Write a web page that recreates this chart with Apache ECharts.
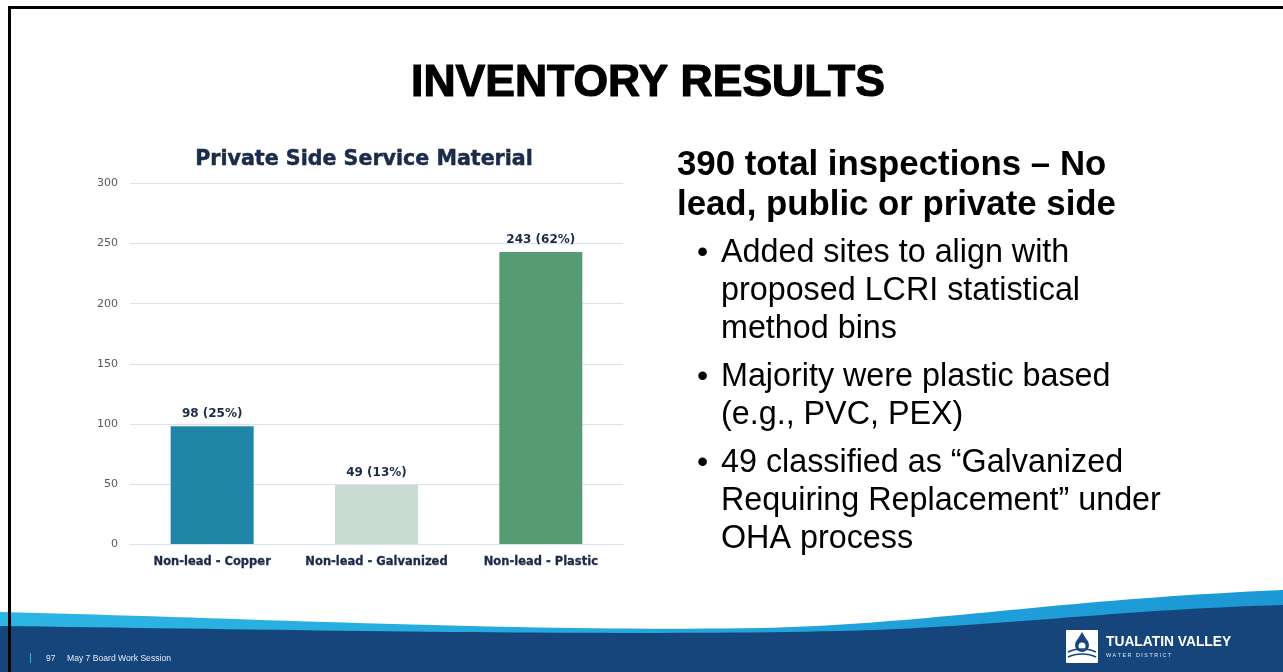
<!DOCTYPE html>
<html>
<head>
<meta charset="utf-8">
<title>Inventory Results</title>
<script src="https://cdn.jsdelivr.net/npm/echarts@6/dist/echarts.min.js"></script>
<style>
  html, body { margin: 0; padding: 0; background: #ffffff; }
  #chart { width: 1283px; height: 672px; }
</style>
</head>
<body>
<div id="chart"></div>
<script>
// Service-line material counts found on the private side
const categories = ['Non-lead - Copper', 'Non-lead - Galvanized', 'Non-lead - Plastic'];
const counts = [98, 49, 243];
const totalInspections = 390;

// Value axis range
const yMin = 0;
const yMax = 300;
const yStep = 50;

// Slide text
const slideTitle = 'INVENTORY RESULTS';
const chartTitle = 'Private Side Service Material';
const headingLines = ['390 total inspections \u2013 No', 'lead, public or private side'];
const bulletGroups = [
  ['Added sites to align with', 'proposed LCRI statistical', 'method bins'],
  ['Majority were plastic based', '(e.g., PVC, PEX)'],
  ['49 classified as \u201cGalvanized', 'Requiring Replacement\u201d under', 'OHA process']
];
const footerPage = '97';
const footerText = 'May 7 Board Work Session';

const FONT = '"Liberation Sans", Arial, sans-serif';
const WIDE = '"DejaVu Sans", Verdana, sans-serif';
const barColors = ['#2086a8', '#c9dbd1', '#579b74'];
const NAVY = '#15457b';

// Turn a start point plus cubic segments into polygon points (for the footer wave)
function curvePoints(start, segments, steps) {
  const pts = [start.slice()];
  let p0 = start;
  segments.forEach(s => {
    const c1 = [s[0], s[1]], c2 = [s[2], s[3]], p3 = [s[4], s[5]];
    for (let i = 1; i <= steps; i++) {
      const t = i / steps, u = 1 - t;
      pts.push([
        u * u * u * p0[0] + 3 * u * u * t * c1[0] + 3 * u * t * t * c2[0] + t * t * t * p3[0],
        u * u * u * p0[1] + 3 * u * u * t * c1[1] + 3 * u * t * t * c2[1] + t * t * t * p3[1]
      ]);
    }
    p0 = p3;
  });
  return pts;
}

const lightWave = curvePoints([0, 612], [
  [250, 618, 520, 632, 760, 628],
  [930, 624, 1050, 600, 1283, 590]
], 40).concat([[1283, 672], [0, 672]]);

const navyWave = curvePoints([0, 626], [
  [300, 630, 620, 636, 840, 631],
  [1000, 627, 1110, 610, 1283, 605]
], 40).concat([[1283, 672], [0, 672]]);

const chart = echarts.init(document.getElementById('chart'), null, { renderer: 'canvas' });

// Right-hand text block
const textEls = [];
headingLines.forEach((line, i) => {
  textEls.push({
    type: 'text', x: 677, y: 148 + i * 40, z: 10,
    style: { text: line, font: 'bold 34.8px ' + FONT, fill: '#000000' }
  });
});
let lineY = 237;
bulletGroups.forEach(group => {
  group.forEach((line, i) => {
    if (i === 0) {
      textEls.push({
        type: 'text', x: 697, y: lineY, z: 10,
        style: { text: '\u2022', font: '32px ' + FONT, fill: '#000000' }
      });
    }
    textEls.push({
      type: 'text', x: 721, y: lineY, z: 10,
      style: { text: line, font: '32.3px ' + FONT, fill: '#000000' }
    });
    lineY += 38;
  });
  lineY += 10;
});

const option = {
  backgroundColor: '#ffffff',
  animation: false,
  textStyle: { fontFamily: FONT },
  title: {
    text: chartTitle,
    left: 359, top: 144,
    textAlign: 'center',
    textStyle: {
      fontFamily: WIDE, fontSize: 20.6, fontWeight: 'bold', color: '#1b2c49',
      textBorderColor: '#1b2c49', textBorderWidth: 0.5
    }
  },
  grid: { left: 130, right: 660, top: 183.5, bottom: 128, containLabel: false },
  xAxis: {
    type: 'category',
    data: categories,
    axisLine: { show: true, lineStyle: { color: '#d9e2f0', width: 1 } },
    axisTick: { show: false },
    axisLabel: {
      margin: 12, fontSize: 11.5, fontWeight: 'bold', color: '#1b2a47', fontFamily: WIDE, interval: 0,
      textBorderColor: '#1b2a47', textBorderWidth: 0.3
    }
  },
  yAxis: {
    type: 'value',
    min: yMin, max: yMax, interval: yStep,
    axisLine: { show: false },
    axisTick: { show: false },
    splitLine: { lineStyle: { color: '#d9e2f0', width: 1 } },
    axisLabel: { margin: 12, fontSize: 11, color: '#595959', fontFamily: WIDE }
  },
  series: [{
    type: 'bar',
    data: counts.map((v, i) => ({ value: v, itemStyle: { color: barColors[i] } })),
    barWidth: '50.5%',
    label: {
      show: true,
      position: 'top',
      distance: 6,
      fontFamily: WIDE,
      fontSize: 12,
      fontWeight: 'bold',
      color: '#1b2b47',
      formatter: p => p.value + ' (' + Math.round(p.value / totalInspections * 100) + '%)'
    }
  }],
  graphic: [
    // slide frame lines
    { type: 'rect', shape: { x: 8, y: 6, width: 1283, height: 3 }, style: { fill: '#000000' }, z: 20 },
    { type: 'rect', shape: { x: 8, y: 6, width: 3, height: 672 }, style: { fill: '#000000' }, z: 20 },
    // heading
    {
      type: 'text', x: 648, y: 84, z: 10,
      style: {
        text: slideTitle, font: 'bold 44.5px ' + FONT, fill: '#000000',
        stroke: '#000000', lineWidth: 1.2,
        textAlign: 'center', textVerticalAlign: 'middle'
      }
    },
    ...textEls,
    // footer wave: light band then navy band
    {
      type: 'polygon', z: 1,
      shape: { points: lightWave },
      style: {
        fill: new echarts.graphic.LinearGradient(0, 0, 1, 0, [
          { offset: 0, color: '#2cb6e4' }, { offset: 1, color: '#1b98d5' }
        ])
      }
    },
    { type: 'polygon', z: 2, shape: { points: navyWave }, style: { fill: NAVY } },
    // footer text
    { type: 'rect', z: 5, shape: { x: 30, y: 653, width: 1, height: 10 }, style: { fill: '#2cb6e4' } },
    { type: 'text', z: 5, x: 46, y: 654, style: { text: footerPage, font: '8.5px ' + FONT, fill: '#e6ecf4' } },
    { type: 'text', z: 5, x: 67, y: 654, style: { text: footerText, font: '8.6px ' + FONT, fill: '#e6ecf4' } },
    // district mark
    { type: 'rect', z: 5, shape: { x: 1066, y: 630, width: 32, height: 33, r: 1 }, style: { fill: '#ffffff' } },
    { type: 'circle', z: 6, shape: { cx: 1082, cy: 645, r: 7 }, style: { fill: NAVY } },
    { type: 'polygon', z: 6, shape: { points: [[1082, 632], [1076, 642], [1088, 642]] }, style: { fill: NAVY } },
    { type: 'circle', z: 7, shape: { cx: 1082, cy: 646, r: 3.5 }, style: { fill: '#ffffff' } },
    {
      type: 'bezierCurve', z: 8,
      shape: { x1: 1068, y1: 652, x2: 1096, y2: 652, cpx1: 1076, cpy1: 648, cpx2: 1088, cpy2: 648 },
      style: { stroke: NAVY, lineWidth: 1.6, fill: null }
    },
    {
      type: 'bezierCurve', z: 8,
      shape: { x1: 1068, y1: 657, x2: 1096, y2: 657, cpx1: 1076, cpy1: 653, cpx2: 1088, cpy2: 653 },
      style: { stroke: NAVY, lineWidth: 1.6, fill: null }
    },
    { type: 'text', z: 5, x: 1106, y: 635, style: { text: 'TUALATIN VALLEY', font: 'bold 13.8px ' + FONT, fill: '#ffffff' } },
    { type: 'text', z: 5, x: 1106, y: 653, style: { text: 'W A T E R   D I S T R I C T', font: '5.4px ' + FONT, fill: '#dfe8f2' } }
  ]
};

chart.setOption(option);
</script>
</body>
</html>
